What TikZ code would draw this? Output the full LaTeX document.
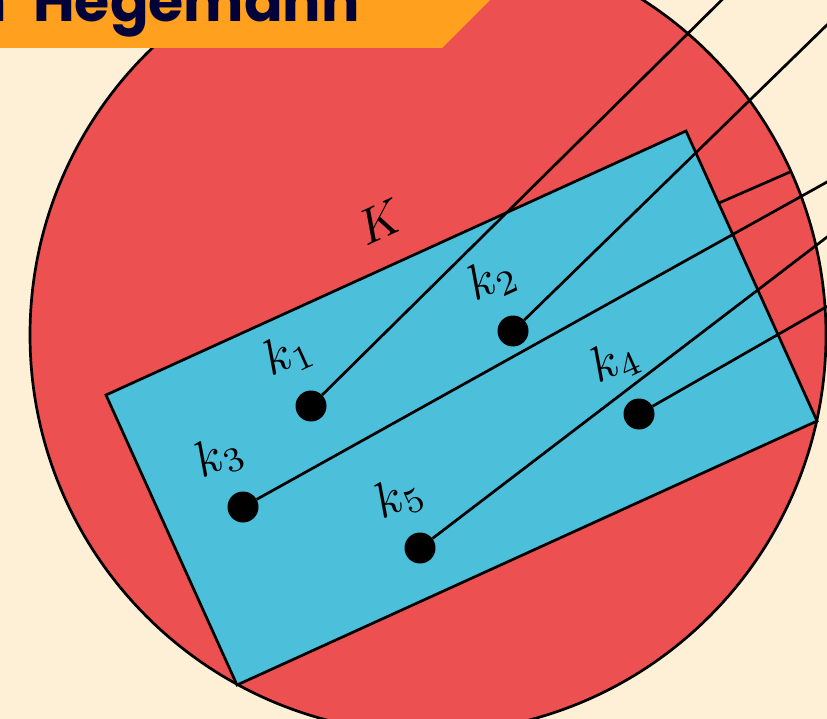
\documentclass[tikz,border=0pt]{standalone}
\usepackage{fontspec}
\newfontfamily\bannerfont{Poppins}
\definecolor{cream}{RGB}{253,240,214}
\definecolor{redc}{RGB}{237,80,80}
\definecolor{bluec}{RGB}{76,191,219}
\definecolor{orangec}{RGB}{255,160,30}
\definecolor{navy}{RGB}{2,2,58}
\newcommand{\biglab}[1]{\scalebox{4.95}{$#1$}}
\tikzset{
  edge/.style={line width=2.7pt, black},
  dot/.style={circle, fill=black, minimum size=31pt, inner sep=0pt},
  klabel/.style={rotate=24.5, inner sep=0pt},
  bannertext/.style={inner sep=0pt, text=navy, font=\bannerfont\bfseries\fontsize{57}{66}\selectfont},
}
\begin{document}
\begin{tikzpicture}[x=1pt, y=-1pt]
\useasboundingbox (0,0) rectangle (827,719);
\clip (0,0) rectangle (827,719);
\fill[cream] (0,0) rectangle (827,719);
% circle
\coordinate (O) at (428,335);
\draw[edge, fill=redc] (O) circle[radius=398pt];
% banner
\fill[orangec] (-5,-5) -- (495,-5) -- (442,48) -- (-5,48) -- cycle;
\node[bannertext, anchor=base east] (title) at (360,22) {Hegemann};
\node[bannertext, anchor=base east] (titlepre) at (7,22) {n};
% rectangle
\coordinate (A) at (106,395);
\coordinate (B) at (686,131);
\coordinate (C) at (817,421);
\coordinate (D) at (237,685);
\draw[edge, fill=bluec, line join=miter] (A) -- (B) -- (C) -- (D) -- cycle;
% dots
\node[dot] (k1) at (311,406) {};
\node[dot] (k2) at (513,331) {};
\node[dot] (k3) at (243,507) {};
\node[dot] (k4) at (639,414) {};
\node[dot] (k5) at (420,548) {};
% far ends
\coordinate (e1) at (742,-20);
\coordinate (e2) at (850,2.5);
\coordinate (e3) at (850,169.2);
\coordinate (e4) at (850,293.3);
\coordinate (e5) at (850,219.5);
\coordinate (s1) at (719,203);
\coordinate (s2) at (790,172);
\draw[edge] (k1) -- (e1);
\draw[edge] (k2) -- (e2);
\draw[edge] (k3) -- (e3);
\draw[edge] (k4) -- (e4);
\draw[edge] (k5) -- (e5);
\draw[edge] (s1) -- (s2);
% labels
\node[klabel] (L) at (380,222) {\biglab{K}};
\node[klabel] (l1) at (288,354) {\biglab{k_1}};
\node[klabel] (l2) at (492,279) {\biglab{k_2}};
\node[klabel] (l3) at (219,456) {\biglab{k_3}};
\node[klabel] (l4) at (615,361) {\biglab{k_4}};
\node[klabel] (l5) at (399,497) {\biglab{k_5}};
\end{tikzpicture}
\end{document}
